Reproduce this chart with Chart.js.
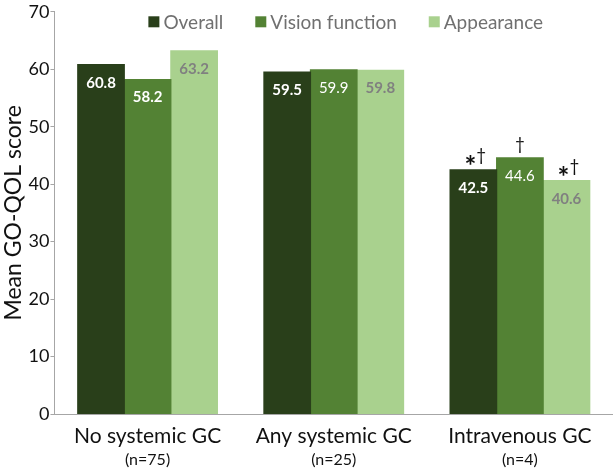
<!DOCTYPE html>
<html>
<head>
<meta charset="utf-8">
<script src="https://cdn.jsdelivr.net/npm/chart.js@4.4.1/dist/chart.umd.min.js"></script>
<style>
  html, body { margin: 0; padding: 0; background: #fff; }
  #wrap { width: 613px; height: 471px; position: relative; }
</style>
</head>
<body>
<div id="wrap"><canvas id="grafico"></canvas></div>
<script>
// dados
const grupos = ['No systemic GC', 'Any systemic GC', 'Intravenous GC'];
const amostras = ['(n=75)', '(n=25)', '(n=4)'];
const overall = [60.8, 59.5, 42.5];
const visionFunction = [58.2, 59.9, 44.6];
const appearance = [63.2, 59.8, 40.6];
// marcas de significância acima das barras (por série)
const marcasOverall = ['', '', '*†'];
const marcasVision = ['', '', '†'];
const marcasAppearance = ['', '', '*†'];
const yTicks = [0, 10, 20, 30, 40, 50, 60, 70];

const FONTE = 'Lato, "Open Sans", sans-serif';

// legenda desenhada à mão dentro da área do gráfico
const legendaPlugin = {
    id: 'legenda',
    afterDraw(chart) {
        const ctx = chart.ctx;
        const area = chart.chartArea;
        ctx.save();
        ctx.font = `19px ${FONTE}`;
        ctx.textBaseline = 'middle';
        const caixa = 11, gapCaixa = 4, gapItem = 32;
        const itens = chart.data.datasets.map(ds => ({
            texto: ds.label, cor: ds.backgroundColor, w: ctx.measureText(ds.label).width
        }));
        const total = itens.reduce((s, it) => s + caixa + gapCaixa + it.w, 0) + gapItem * (itens.length - 1);
        let x = (area.left + area.right) / 2 + 12 - total / 2;
        const y = area.top + 10;
        itens.forEach(it => {
            ctx.fillStyle = it.cor;
            ctx.fillRect(x, y - caixa / 2, caixa, caixa);
            x += caixa + gapCaixa;
            ctx.fillStyle = '#707070';
            ctx.fillText(it.texto, x, y + 1);
            x += it.w + gapItem;
        });
        ctx.restore();
    }
};

// rótulos dentro das barras + marcas * e †
const rotulosPlugin = {
    id: 'rotulos',
    afterDatasetsDraw(chart) {
        const ctx = chart.ctx;
        const estilos = [
            { cor: '#ffffff', peso: ['bold', 'bold', 'bold'], marcas: marcasOverall },
            { cor: '#ffffff', peso: ['bold', 'normal', 'normal'], marcas: marcasVision },
            { cor: '#808080', peso: ['bold', 'bold', 'bold'], marcas: marcasAppearance }
        ];
        chart.data.datasets.forEach((ds, i) => {
            const meta = chart.getDatasetMeta(i);
            meta.data.forEach((bar, j) => {
                const st = estilos[i];
                ctx.save();
                ctx.textAlign = 'center';
                ctx.textBaseline = 'middle';
                ctx.fillStyle = st.cor;
                ctx.font = `${st.peso[j]} 15px ${FONTE}`;
                ctx.fillText(ds.data[j].toFixed(1), bar.x, bar.y + 18);
                const m = st.marcas[j];
                if (m) {
                    ctx.fillStyle = '#111';
                    ctx.textBaseline = 'alphabetic';
                    if (m.startsWith('*')) {
                        ctx.font = `bold 28px ${FONTE}`;
                        ctx.textAlign = 'right';
                        ctx.fillText('*', bar.x + 3, bar.y + 6);
                        ctx.font = `17px ${FONTE}`;
                        ctx.textAlign = 'left';
                        ctx.fillText('†', bar.x + 3, bar.y - 9);
                    } else {
                        ctx.font = `17px ${FONTE}`;
                        ctx.textAlign = 'center';
                        ctx.fillText('†', bar.x, bar.y - 8);
                    }
                }
                ctx.restore();
            });
        });
    }
};

// rótulos do eixo X em duas linhas com tamanhos diferentes
const eixoXPlugin = {
    id: 'eixoX',
    afterDraw(chart) {
        const ctx = chart.ctx;
        const x = chart.scales.x;
        const base = chart.chartArea.bottom;
        ctx.save();
        ctx.textAlign = 'center';
        ctx.textBaseline = 'middle';
        ctx.fillStyle = '#111';
        grupos.forEach((g, i) => {
            const px = x.getPixelForValue(i);
            ctx.font = `21px ${FONTE}`;
            ctx.fillText(g, px, base + 22);
            ctx.font = `16px ${FONTE}`;
            ctx.fillText(amostras[i], px, base + 46);
        });
        ctx.restore();
    }
};

new Chart(document.getElementById('grafico'), {
    type: 'bar',
    data: {
        labels: grupos,
        datasets: [
            { label: 'Overall', data: overall, backgroundColor: '#293f1a' },
            { label: 'Vision function', data: visionFunction, backgroundColor: '#538234' },
            { label: 'Appearance', data: appearance, backgroundColor: '#a9d18e' }
        ]
    },
    options: {
        responsive: true,
        maintainAspectRatio: false,
        animation: false,
        layout: { padding: { top: 0, right: 0, bottom: 57, left: 0 } },
        datasets: { bar: { categoryPercentage: 0.75, barPercentage: 1.0, inflateAmount: 0.6 } },
        plugins: {
            legend: { display: false },
            tooltip: { enabled: false }
        },
        scales: {
            x: {
                grid: { display: false, drawTicks: false },
                border: { color: '#a6a6a6' },
                ticks: { display: false }
            },
            y: {
                min: 0,
                max: 70,
                afterBuildTicks: (axis) => { axis.ticks = yTicks.map(v => ({ value: v })); },
                grid: { drawOnChartArea: false, tickLength: 4, color: '#a6a6a6' },
                border: { color: '#a6a6a6' },
                ticks: { font: { family: FONTE, size: 18 }, color: '#111', padding: 1 },
                title: {
                    display: true,
                    text: 'Mean GO-QOL score',
                    font: { family: FONTE, size: 23 },
                    color: '#111',
                    padding: { top: 0, bottom: 0 }
                }
            }
        }
    },
    plugins: [legendaPlugin, rotulosPlugin, eixoXPlugin]
});
</script>
</body>
</html>
